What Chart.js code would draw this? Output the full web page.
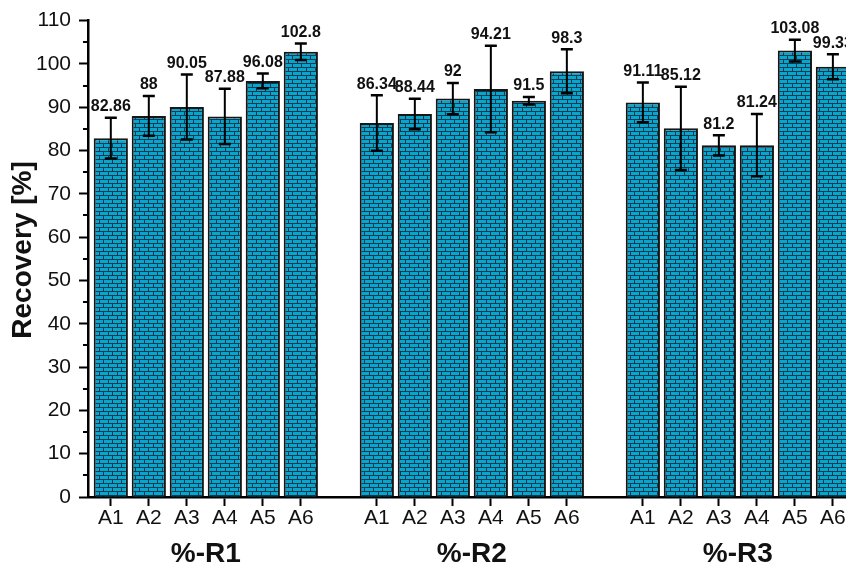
<!DOCTYPE html>
<html>
<head>
<meta charset="utf-8">
<script src="https://cdn.jsdelivr.net/npm/chart.js@4/dist/chart.umd.min.js"></script>
<style>
  html, body { margin: 0; padding: 0; background: #fff; }
  #wrap { width: 846px; height: 571px; overflow: hidden; position: relative; }
  canvas { display: block; }
</style>
</head>
<body>
<div id="wrap"><canvas id="c" width="900" height="571"></canvas></div>
<script>
// Samples and groups
const categories = ['A1', 'A2', 'A3', 'A4', 'A5', 'A6'];
const groups = ['%-R1', '%-R2', '%-R3'];

// Mean recovery (%) per sample, one array per group
const recoveryR1 = [82.86, 88, 90.05, 87.88, 96.08, 102.8];
const recoveryR2 = [86.34, 88.44, 92, 94.21, 91.5, 98.3];
const recoveryR3 = [91.11, 85.12, 81.2, 81.24, 103.08, 99.33];

// Standard deviations (error bar half-lengths)
const errorR1 = [4.7, 4.6, 7.5, 6.4, 1.7, 1.9];
const errorR2 = [6.4, 3.5, 3.6, 10.0, 0.85, 5.1];
const errorR3 = [4.6, 9.6, 2.35, 7.2, 2.5, 2.9];

// Y axis range / ticks
const yMin = 0, yMax = 110, yStep = 10, yMinorStep = 5;

const recovery = [recoveryR1, recoveryR2, recoveryR3];
const errors = [errorR1, errorR2, errorR3];

// Each group occupies 6 slots followed by one empty slot
const slotsPerGroup = categories.length + 1;
const points = [];
const tickInfo = {};
groups.forEach((g, gi) => {
  categories.forEach((c, ci) => {
    const x = gi * slotsPerGroup + ci;
    points.push({ x: x, y: recovery[gi][ci], err: errors[gi][ci] });
    tickInfo[x] = c;
  });
});

const FONT = "'Liberation Sans', Arial, Helvetica, sans-serif";

// Brick fill pattern
function brickPattern() {
  const t = document.createElement('canvas');
  t.width = 18; t.height = 8;
  const g = t.getContext('2d');
  g.fillStyle = '#08a6cf';
  g.fillRect(0, 0, 18, 8);
  g.fillStyle = '#0d3a4d';
  // horizontal mortar
  g.fillRect(0, 3, 18, 1);
  g.fillRect(0, 7, 18, 1);
  // vertical joints, offset every other row
  g.fillRect(4, 0, 1, 3);
  g.fillRect(13, 0, 1, 3);
  g.fillRect(0, 4, 1, 3);
  g.fillRect(9, 4, 1, 3);
  return g.createPattern(t, 'repeat');
}

// Error bars, value labels, minor ticks and group captions
const decorations = {
  id: 'decorations',
  afterDatasetsDraw(chart) {
    const ctx = chart.ctx;
    const xs = chart.scales.x, ys = chart.scales.y;
    const area = chart.chartArea;
    ctx.save();
    ctx.beginPath();
    ctx.rect(0, 0, area.right, chart.height);
    ctx.clip();
    ctx.strokeStyle = '#000';
    points.forEach(p => {
      const x = xs.getPixelForValue(p.x);
      const yt = ys.getPixelForValue(p.y + p.err);
      const yb = ys.getPixelForValue(p.y - p.err);
      ctx.lineWidth = 2;
      ctx.beginPath();
      ctx.moveTo(x, yt); ctx.lineTo(x, yb);
      ctx.stroke();
      ctx.lineWidth = 2.5;
      ctx.beginPath();
      ctx.moveTo(x - 6, yt); ctx.lineTo(x + 6, yt);
      ctx.moveTo(x - 6, yb); ctx.lineTo(x + 6, yb);
      ctx.stroke();
      ctx.fillStyle = '#111';
      ctx.font = 'bold 16px ' + FONT;
      ctx.textAlign = 'center';
      ctx.textBaseline = 'bottom';
      ctx.fillText(String(p.y), x, yt - 3);
    });
    ctx.restore();
  },
  afterDraw(chart) {
    const ctx = chart.ctx;
    const xs = chart.scales.x, ys = chart.scales.y;
    const left = chart.chartArea.left;
    ctx.save();
    // minor ticks on the y axis
    ctx.strokeStyle = '#000';
    ctx.lineWidth = 2;
    for (let v = yMin + yMinorStep; v < yMax; v += yStep) {
      const y = Math.round(ys.getPixelForValue(v));
      ctx.beginPath();
      ctx.moveTo(left - 5, y); ctx.lineTo(left, y);
      ctx.stroke();
    }
    // group captions under each block of samples
    ctx.fillStyle = '#111';
    ctx.font = 'bold 28px ' + FONT;
    ctx.textAlign = 'center';
    ctx.textBaseline = 'middle';
    groups.forEach((g, gi) => {
      const cx = xs.getPixelForValue(gi * slotsPerGroup + (categories.length - 1) / 2);
      ctx.fillText(g, cx, 554);
    });
    // y axis title
    ctx.save();
    ctx.translate(23, 250);
    ctx.rotate(-Math.PI / 2);
    ctx.font = 'bold 28px ' + FONT;
    ctx.fillText('Recovery [%]', 0, 0);
    ctx.restore();
    ctx.restore();
  }
};

new Chart(document.getElementById('c'), {
  type: 'bar',
  data: {
    datasets: [{
      data: points,
      backgroundColor: brickPattern(),
      borderColor: '#161616',
      borderWidth: 2,
      barPercentage: 0.9,
      categoryPercentage: 1.0
    }]
  },
  options: {
    responsive: false,
    animation: false,
    devicePixelRatio: 1,
    layout: { padding: { top: 20, right: 20, left: 0, bottom: 0 } },
    plugins: { legend: { display: false }, tooltip: { enabled: false } },
    scales: {
      x: {
        type: 'linear',
        offset: false,
        min: -0.6,
        max: 20.24,
        afterFit(s) { s.height = 74; },
        afterBuildTicks(s) {
          s.ticks = Object.keys(tickInfo).map(v => ({ value: Number(v) }));
        },
        grid: {
          offset: false,
          drawOnChartArea: false,
          drawTicks: true,
          tickLength: 9,
          tickWidth: 2,
          tickColor: '#000'
        },
        border: { display: true, color: '#000', width: 2.5 },
        ticks: {
          autoSkip: false,
          maxRotation: 0,
          padding: 0,
          color: '#111',
          font: { family: FONT, size: 21 },
          callback: v => tickInfo[v] || ''
        }
      },
      y: {
        min: yMin,
        max: yMax,
        afterFit(s) { s.width = 88; },
        grid: {
          drawOnChartArea: false,
          drawTicks: true,
          tickLength: 9,
          tickWidth: 2,
          tickColor: '#000'
        },
        border: { display: true, color: '#000', width: 2.5 },
        ticks: {
          stepSize: yStep,
          padding: 8,
          color: '#111',
          font: { family: FONT, size: 21 }
        },
        title: { display: false }
      }
    }
  },
  plugins: [decorations]
});
</script>
</body>
</html>
